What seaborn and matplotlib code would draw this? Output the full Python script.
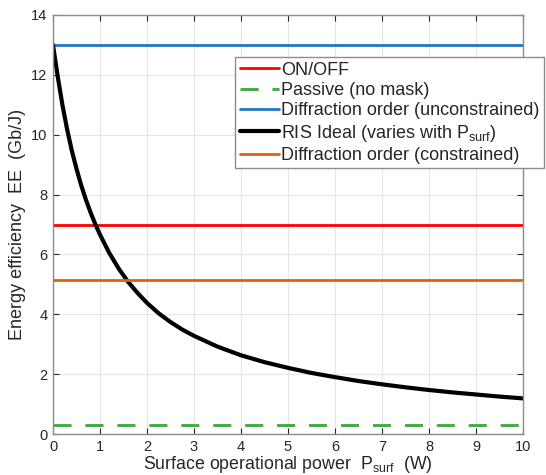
import numpy as np
import pandas as pd
import matplotlib
matplotlib.use("Agg")
import matplotlib.pyplot as plt
import seaborn as sns

# ---- data ----
x_range = [0, 10]
on_off = [6.98, 6.98]
passive = [0.29, 0.29]
diff_unconstrained = [13.0, 13.0]
diff_constrained = [5.16, 5.16]

p_surf = [0, 0.1, 0.2, 0.3, 0.4, 0.5, 0.6, 0.7, 0.8, 0.9, 1.0, 1.2, 1.4, 1.6,
          1.8, 2.0, 2.25, 2.5, 2.75, 3.0, 3.5, 4.0, 4.5, 5.0, 5.5, 6.0, 6.5,
          7.0, 7.5, 8.0, 8.5, 9.0, 9.5, 10.0]
ris_ideal = [13.0, 11.95, 11.0, 10.18, 9.47, 8.86, 8.31, 7.83, 7.40, 7.01,
             6.66, 6.04, 5.52, 5.08, 4.71, 4.38, 4.03, 3.74, 3.49, 3.28,
             2.92, 2.63, 2.40, 2.21, 2.04, 1.90, 1.77, 1.66, 1.56, 1.47,
             1.39, 1.32, 1.25, 1.19]

xticks = list(range(0, 11))
yticks = list(range(0, 15, 2))

sns.set_theme(style="whitegrid")
plt.rcParams['font.family'] = ['Liberation Sans', 'DejaVu Sans']
plt.rcParams['mathtext.default'] = 'regular'

fig = plt.figure(figsize=(5.46, 4.75), dpi=100)
ax = fig.add_axes([53/546, 1-434/475, (523-53)/546, (434-15)/475])

df_c = pd.DataFrame({"x": p_surf, "y": ris_ideal})

sns.lineplot(x=x_range, y=on_off, ax=ax, color="#ff0000", lw=2.0, label="ON/OFF")
sns.lineplot(x=x_range, y=passive, ax=ax, color="#3aaa35", lw=2.0,
             label="Passive (no mask)", dashes=False)
ax.lines[-1].set_dashes([6.5, 5])
sns.lineplot(x=x_range, y=diff_unconstrained, ax=ax, color="#1f78c1", lw=2.0,
             label="Diffraction order (unconstrained)")
sns.lineplot(data=df_c, x="x", y="y", ax=ax, color="black", lw=3.0,
             label=r"RIS Ideal (varies with P$_{surf}$)")
sns.lineplot(x=x_range, y=diff_constrained, ax=ax, color="#e0600f", lw=2.0,
             label="Diffraction order (constrained)")

ax.set_xlim(0, 10)
ax.set_ylim(0, 14)
ax.set_xticks(xticks)
ax.set_yticks(yticks)
ax.set_xticklabels([str(t) for t in xticks])
ax.set_yticklabels([str(t) for t in yticks])
ax.tick_params(direction="in", length=4, width=0.8, colors="#262626",
               labelsize=10.5, top=True, right=True, bottom=True, left=True,
               pad=4)
ax.grid(True, color="#e6e6e6", lw=0.8)
for s in ax.spines.values():
    s.set_color("#8c8c8c")
    s.set_linewidth(1.0)

ax.set_xlabel(r"Surface operational power  P$_{surf}$  (W)", fontsize=12.8,
              color="#262626", labelpad=0)
ax.set_ylabel("Energy efficiency  EE  (Gb/J)", fontsize=13,
              color="#262626", labelpad=4)

leg = ax.legend(loc="upper left", bbox_to_anchor=(235/546, 1-57/475),
                bbox_transform=fig.transFigure, fontsize=13, frameon=True,
                fancybox=False, edgecolor="#8c8c8c", framealpha=1,
                handlelength=2.2, handletextpad=0.1, borderpad=0.25,
                labelspacing=0.185, borderaxespad=0)
leg.get_frame().set_linewidth(1.0)
leg.set_zorder(5)

fig.savefig("out.png", dpi=100, facecolor="white")
